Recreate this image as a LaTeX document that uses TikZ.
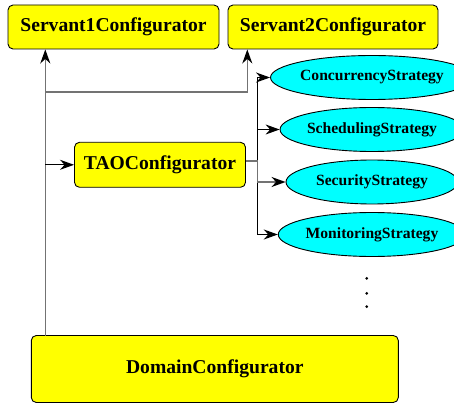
\documentclass[tikz,border=0pt]{standalone}
\usepackage{fontspec}
\setmainfont{Liberation Serif}
\usetikzlibrary{shapes.geometric,arrows.meta}
\definecolor{boxyellow}{RGB}{255,255,0}
\definecolor{ovalcyan}{RGB}{0,255,255}
\definecolor{linegray}{RGB}{115,115,115}
\begin{document}
\begin{tikzpicture}[x=1pt,y=-1pt,
  cfg/.style={draw=black, line width=0.9pt, fill=boxyellow, rounded corners=5pt, inner sep=0pt,
    font=\fontsize{19.6}{22}\selectfont\bfseries},
  strat/.style={ellipse, draw=black, line width=0.9pt, fill=ovalcyan, inner sep=0pt,
    minimum width=172pt, minimum height=44pt, font=\fontsize{15.6}{17}\selectfont\bfseries},
  tip/.style={-{Stealth[length=14pt,width=10pt,inset=4.5pt,black]}},
  conn/.style={line width=1.6pt, draw=linegray, tip},
  bconn/.style={line width=1.4pt, draw=black, tip}]
\useasboundingbox (0,0) rectangle (454,403);
\node[cfg, minimum width=211pt, minimum height=44pt] (s1) at (113.5,27) {Servant1Configurator};
\node[cfg, minimum width=210pt, minimum height=44pt] (s2) at (333,27) {Servant2Configurator};
\node[cfg, minimum width=171pt, minimum height=45pt] (tao) at (160,164.8) {TAOConfigurator};
\node[cfg, minimum width=367pt, minimum height=67pt] (dom) at (214.8,369) {\raisebox{-3pt}{DomainConfigurator}};
\node[strat] (c1) at (372,77.5) {ConcurrencyStrategy};
\node[strat] (c2) at (372,129.5) {SchedulingStrategy};
\node[strat] (c3) at (372,182) {SecurityStrategy};
\node[strat] (c4) at (372,234.5) {MonitoringStrategy};
\coordinate (tb) at (45.3,335.7);
\coordinate (j1) at (45.3,92.3);
\coordinate (k1) at (247.3,92.3);
\coordinate (v) at (257.3,0);
\draw[conn] (tb) -- (tb |- s1.south);
\draw[conn] (j1) -- (k1) -- (k1 |- s2.south);
\draw[bconn] (tb |- tao.west) -- (tao.west);
\draw[line width=1.4pt, black] (v |- c1.west) -- (v |- c4.west);
\draw[bconn] (v |- c1.west) -- (c1.west);
\draw[bconn] (v |- c2.west) -- (c2.west);
\draw[bconn] (v |- c4.west) -- (c4.west);
\draw[conn] ([yshift=4pt]tao.east) -- ([yshift=4pt]tao.east -| v) |- (c3.west);
\fill (366.7,278.3) circle (1.5pt);
\fill (366.7,293.3) circle (1.5pt);
\fill (366.7,306.7) circle (1.5pt);
\end{tikzpicture}
\end{document}
